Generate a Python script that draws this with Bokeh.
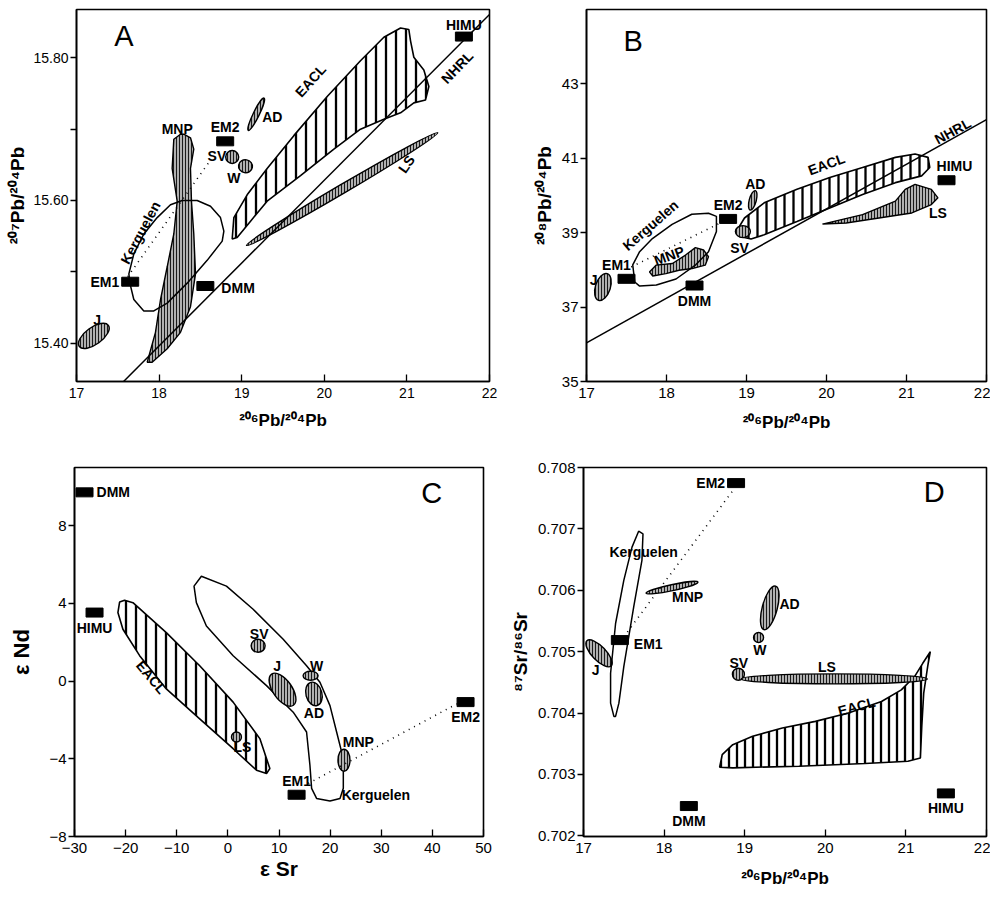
from bokeh.plotting import figure
from bokeh.layouts import row, column
from bokeh.models import FixedTicker, NumeralTickFormatter, Range1d
from bokeh.core.properties import value
from bokeh.embed import file_html
from bokeh.resources import INLINE

FONT = "Liberation Sans"

# ======================= DATA =======================
# ---- Panel A : 206Pb/204Pb vs 207Pb/204Pb
A_em_names = ["HIMU", "EM2", "EM1", "DMM"]
A_em_x = [21.69, 18.80, 17.65, 18.56]
A_em_y = [15.830, 15.683, 15.486, 15.480]
A_nhrl_x = [17.57, 22.0]
A_nhrl_y = [15.346, 15.861]
A_mix_x = [17.62, 18.63]
A_mix_y = [15.493, 15.658]
A_mnp_x = [18.259, 18.178, 18.158, 18.219, 18.178, 18.098, 18.017, 17.956, 17.856, 17.916,
           18.098, 18.259, 18.380, 18.441, 18.420, 18.392, 18.380, 18.420, 18.380, 18.299]
A_mnp_y = [15.693, 15.686, 15.645, 15.599, 15.553, 15.507, 15.461, 15.415, 15.373, 15.373,
           15.392, 15.415, 15.451, 15.497, 15.553, 15.599, 15.645, 15.672, 15.688, 15.693]
A_ker_x = [17.646, 17.694, 17.815, 17.936, 18.098, 18.340, 18.582, 18.764, 18.784, 18.743,
           18.622, 18.461, 18.279, 18.138, 17.977, 17.815, 17.694, 17.634]
A_ker_y = [15.484, 15.461, 15.445, 15.445, 15.456, 15.484, 15.516, 15.543, 15.557, 15.576,
           15.592, 15.600, 15.600, 15.594, 15.576, 15.553, 15.525, 15.497]
A_eacl_x = [18.885, 18.905, 19.066, 19.308, 19.631, 20.035, 20.438, 20.721, 20.923, 21.023,
            21.044, 21.084, 21.205, 21.266, 21.225, 21.084, 20.923, 20.721, 20.438, 20.116,
            19.712, 19.308, 19.107, 18.945]
A_eacl_y = [15.546, 15.576, 15.608, 15.645, 15.691, 15.746, 15.796, 15.829, 15.842, 15.840,
            15.824, 15.801, 15.783, 15.760, 15.741, 15.737, 15.723, 15.714, 15.700, 15.672,
            15.635, 15.599, 15.571, 15.548]
A_ell_names = ["J", "SV", "W", "AD", "LS"]
A_ell_x = [17.21, 18.885, 19.046, 19.175, 20.216]
A_ell_y = [15.410, 15.661, 15.648, 15.721, 15.616]
A_ell_w = [36, 13, 13, 36, 222]
A_ell_h = [17, 13, 14, 6, 9]
A_ell_a = [36, 0, 80, 64, 30.5]

# ---- Panel B : 206Pb/204Pb vs 208Pb/204Pb
B_em_names = ["HIMU", "EM2", "EM1", "DMM"]
B_em_x = [21.50, 18.77, 17.50, 18.35]
B_em_y = [40.41, 39.37, 37.76, 37.58]
B_nhrl_x = [17.0, 22.0]
B_nhrl_y = [36.04, 42.04]
B_mix_x = [17.56, 18.67]
B_mix_y = [38.08, 39.26]
B_ker_x = [17.603, 17.664, 17.873, 18.119, 18.365, 18.525, 18.624, 18.624, 18.525, 18.316,
           18.070, 17.824, 17.664, 17.578]
B_ker_y = [37.674, 37.565, 37.592, 37.755, 38.136, 38.489, 39.033, 39.440, 39.522, 39.495,
           39.223, 38.842, 38.489, 38.136]
B_mnp_x = [17.787, 17.869, 18.074, 18.238, 18.361, 18.463, 18.525, 18.484, 18.320, 18.156,
           17.992, 17.828]
B_mnp_y = [37.946, 38.127, 38.172, 38.399, 38.598, 38.534, 38.353, 38.127, 38.036, 37.991,
           37.900, 37.837]
B_eacl_x = [18.873, 18.975, 19.221, 19.631, 20.041, 20.451, 20.861, 21.107, 21.270, 21.291,
            21.189, 20.861, 20.451, 20.041, 19.631, 19.221, 19.057, 18.914]
B_eacl_y = [39.033, 39.395, 39.803, 40.165, 40.482, 40.754, 41.025, 41.116, 41.025, 40.754,
            40.527, 40.346, 40.029, 39.667, 39.304, 38.942, 38.833, 38.897]
B_ls_x = [19.95, 20.451, 20.861, 20.984, 21.107, 21.311, 21.393, 21.311, 21.066, 20.656, 20.246]
B_ls_y = [39.232, 39.486, 39.848, 40.165, 40.301, 40.165, 39.938, 39.757, 39.531, 39.395, 39.259]
B_ell_names = ["J", "SV", "AD"]
B_ell_x = [17.205, 18.955, 19.078]
B_ell_y = [37.54, 39.03, 39.87]
B_ell_w = [28, 15, 20]
B_ell_h = [15, 12, 7]
B_ell_a = [72, 0, 75]

# ---- Panel C : eSr vs eNd
C_em_names = ["DMM", "HIMU", "EM2", "EM1"]
C_em_x = [-28.04, -26.08, 46.49, 13.44]
C_em_y = [9.72, 3.53, -1.08, -5.85]
C_mix_x = [15.72, 44.79]
C_mix_y = [-5.27, -1.17]
C_eacl_x = [-21.18, -20.20, -18.57, -12.04, -5.51, 1.03, 6.25, 8.21, 7.56, 5.60, 1.03,
            -5.51, -12.04, -17.26, -20.53, -21.51]
C_eacl_y = [4.07, 4.17, 4.04, 2.50, 0.79, -1.08, -2.96, -4.50, -4.76, -4.59, -3.48,
            -1.94, -0.40, 1.31, 2.67, 3.53]
C_ker_x = [-5.18, -0.28, 4.94, 10.82, 15.39, 18.01, 19.97, 21.27, 22.58, 22.58, 21.93,
           19.97, 17.35, 16.38, 16.05, 15.39, 12.78, 7.56, 1.03, -4.20, -6.16, -6.62]
C_ker_y = [5.40, 4.89, 3.70, 2.16, 0.79, -0.06, -1.26, -2.62, -3.99, -5.52, -6.04,
           -6.17, -6.04, -5.52, -4.33, -2.62, -1.60, -0.23, 1.31, 2.84, 4.04, 4.89]
C_ell_names = ["SV", "J", "W", "AD", "MNP", "LS"]
C_ell_x = [5.92, 10.69, 16.18, 16.83, 22.71, 1.68]
C_ell_y = [1.82, -0.44, 0.28, -0.66, -4.07, -2.88]
C_ell_w = [14, 38, 15, 24, 22, 10]
C_ell_h = [13, 19, 9, 16, 12, 10]
C_ell_a = [0, -55, 0, 105, 90, 0]

# ---- Panel D : 206Pb/204Pb vs 87Sr/86Sr
D_em_names = ["EM2", "EM1", "DMM", "HIMU"]
D_em_x = [18.893, 17.451, 18.307, 21.496]
D_em_y = [0.707746, 0.705189, 0.702486, 0.702692]
D_mix_x = [17.50, 18.852]
D_mix_y = [0.705243, 0.707622]
D_ker_x = [17.377, 17.336, 17.336, 17.398, 17.500, 17.602, 17.684, 17.738, 17.725, 17.623,
           17.500, 17.439, 17.398]
D_ker_y = [0.703946, 0.704162, 0.704649, 0.705459, 0.706162, 0.706703, 0.706962, 0.706919,
           0.706486, 0.705730, 0.704757, 0.704162, 0.703946]
D_eacl_x = [18.689, 18.721, 18.852, 19.098, 19.467, 19.877, 20.287, 20.697, 20.943, 21.107,
            21.209, 21.303, 21.270, 21.221, 21.197, 21.180, 21.025, 20.492, 19.672, 18.852]
D_eacl_y = [0.703119, 0.703324, 0.703486, 0.703622, 0.703757, 0.703865, 0.704000, 0.704189,
            0.704378, 0.704595, 0.704811, 0.705000, 0.704757, 0.704324, 0.703784, 0.703270,
            0.703216, 0.703178, 0.703135, 0.703108]
D_ell_names = ["J", "MNP", "AD", "W", "SV", "LS"]
D_ell_x = [17.193, 18.098, 19.311, 19.172, 18.922, 20.111]
D_ell_y = [0.704973, 0.706043, 0.705714, 0.705232, 0.704632, 0.704557]
D_ell_w = [35, 53, 45, 10, 12, 186]
D_ell_h = [14, 6, 15, 10, 12, 10]
D_ell_a = [-46, 12, 75, 0, 0, 0]

# ======================= HELPERS =======================
def make_fig(w, h, xr, yr, bl, br, bt, bb, tick_size="15px"):
    p = figure(width=w, height=h, x_range=Range1d(*xr), y_range=Range1d(*yr),
               output_backend="svg", toolbar_location=None,
               min_border_left=bl, min_border_right=br, min_border_top=bt, min_border_bottom=bb)
    p.xgrid.visible = False
    p.ygrid.visible = False
    p.outline_line_color = "black"
    p.outline_line_width = 1.6
    p.outline_line_alpha = 1
    p.background_fill_color = "white"
    p.border_fill_color = "white"
    for ax in (p.xaxis[0], p.yaxis[0]):
        ax.axis_line_color = "black"
        ax.axis_line_width = 1.6
        ax.major_tick_line_color = "black"
        ax.major_tick_line_width = 1.3
        ax.minor_tick_line_color = "black"
        ax.minor_tick_line_width = 1.3
        ax.major_label_text_font = FONT
        ax.major_label_text_font_size = tick_size
        ax.major_label_text_color = "black"
        ax.axis_label_text_font = FONT
        ax.axis_label_text_font_style = "bold"
        ax.axis_label_text_color = "black"
    xa, ya = p.xaxis[0], p.yaxis[0]
    xa.major_tick_in, xa.major_tick_out = 7, 0
    xa.minor_tick_in, xa.minor_tick_out = 0, 0
    xa.major_label_standoff = 6
    ya.major_tick_in, ya.major_tick_out = 0, 6
    ya.minor_tick_in, ya.minor_tick_out = 0, 6
    ya.major_label_standoff = 2
    return p


def txt(p, x, y, s, size=14, angle=0, align="center", baseline="middle", dx=0, dy=0, style="bold"):
    p.text(x=[x], y=[y], text=[s], angle=angle, angle_units="deg", x_offset=dx, y_offset=dy,
           text_font=value(FONT), text_font_size=f"{size}px", text_font_style=style,
           text_align=align, text_baseline=baseline, text_color="black")


def endmembers(p, names, xs, ys, places):
    p.rect(x=xs, y=ys, width=17, height=9, width_units="screen", height_units="screen",
           fill_color="black", line_color="black")
    for n, x, y, pl in zip(names, xs, ys, places):
        kind = pl[0]
        ox, oy = (pl[1], pl[2]) if len(pl) > 1 else (0, 0)
        if kind == "above":
            txt(p, x, y, n, dx=ox, dy=-14 + oy)
        elif kind == "below":
            txt(p, x, y, n, dx=ox, dy=15 + oy)
        elif kind == "left":
            txt(p, x, y, n, align="right", dx=-11 + ox, dy=oy)
        else:
            txt(p, x, y, n, align="left", dx=12 + ox, dy=oy)


DENSE = dict(fill_color="#b0b0b0", line_color="black", line_width=1.4,
             hatch_pattern="vertical_line", hatch_scale=3, hatch_weight=1, hatch_color="#1a1a1a")


def dense_patch(p, xs, ys):
    p.patch(xs, ys, **DENSE)


def wide_patch(p, xs, ys, scale):
    p.patch(xs, ys, fill_color="white", fill_alpha=0, line_color="black", line_width=1.6,
            hatch_pattern="vertical_line", hatch_scale=scale, hatch_weight=2.3, hatch_color="black")


def outline(p, xs, ys):
    p.patch(xs, ys, fill_color=None, line_color="black", line_width=1.5)


def dense_ellipses(p, xs, ys, ws, hs, angs):
    p.ellipse(x=xs, y=ys, width=ws, height=hs, angle=angs, angle_units="deg",
              width_units="screen", height_units="screen", **DENSE)


def dotted(p, xs, ys):
    p.line(xs, ys, line_color="black", line_width=1.6, line_dash="1 5")

# ======================= PANEL A =======================
pA = make_fig(500, 453, (17, 22), (15.346, 15.868), 76, 11, 5, 70, tick_size="14px")
pA.xaxis.ticker = FixedTicker(ticks=[17, 18, 19, 20, 21, 22])
pA.yaxis.ticker = FixedTicker(ticks=[15.4, 15.6, 15.8], minor_ticks=[15.5, 15.7])
pA.yaxis.formatter = NumeralTickFormatter(format="0.00")
pA.xaxis.axis_label = "²⁰⁶Pb/²⁰⁴Pb"
pA.yaxis.axis_label = "²⁰⁷Pb/²⁰⁴Pb"
pA.xaxis.axis_label_text_font_size = "17px"
pA.yaxis.axis_label_text_font_size = "19px"
pA.xaxis.axis_label_standoff = 10
pA.yaxis.axis_label_standoff = 2

wide_patch(pA, A_eacl_x, A_eacl_y, 10)
dense_patch(pA, A_mnp_x, A_mnp_y)
dense_ellipses(pA, A_ell_x, A_ell_y, A_ell_w, A_ell_h, A_ell_a)
outline(pA, A_ker_x, A_ker_y)
pA.line(A_nhrl_x, A_nhrl_y, line_color="black", line_width=1.5)
dotted(pA, A_mix_x, A_mix_y)
endmembers(pA, A_em_names, A_em_x, A_em_y,
           [("above", 0, 2), ("above",), ("left",), ("right", 4, 2)])
txt(pA, 18.219, 15.701, "MNP")
txt(pA, 17.775, 15.555, "Kerguelen", angle=62)
txt(pA, 18.70, 15.662, "SV")
txt(pA, 18.905, 15.632, "W")
txt(pA, 19.37, 15.717, "AD")
txt(pA, 19.833, 15.768, "EACL", angle=48)
txt(pA, 21.609, 15.787, "NHRL", angle=46)
txt(pA, 20.995, 15.651, "LS", angle=55)
txt(pA, 17.25, 15.432, "J")
txt(pA, 17.573, 15.831, "A", size=29, style="normal")

# ======================= PANEL B =======================
pB = make_fig(490, 453, (17, 22), (35, 45), 86, 4, 9, 72)
pB.xaxis.ticker = FixedTicker(ticks=[17, 18, 19, 20, 21, 22])
pB.yaxis.ticker = FixedTicker(ticks=[35, 37, 39, 41, 43])
pB.xaxis.axis_label = "²⁰⁶Pb/²⁰⁴Pb"
pB.yaxis.axis_label = "²⁰⁸Pb/²⁰⁴Pb"
pB.xaxis.axis_label_text_font_size = "17px"
pB.yaxis.axis_label_text_font_size = "19px"
pB.xaxis.axis_label_standoff = 12
pB.yaxis.axis_label_standoff = 4

dense_patch(pB, B_ls_x, B_ls_y)
wide_patch(pB, B_eacl_x, B_eacl_y, 9)
dense_patch(pB, B_mnp_x, B_mnp_y)
dense_ellipses(pB, B_ell_x, B_ell_y, B_ell_w, B_ell_h, B_ell_a)
outline(pB, B_ker_x, B_ker_y)
pB.line(B_nhrl_x, B_nhrl_y, line_color="black", line_width=1.5)
dotted(pB, B_mix_x, B_mix_y)
endmembers(pB, B_em_names, B_em_x, B_em_y,
           [("above", 8, 0), ("above",), ("above", -10, 0), ("below",)])
txt(pB, 17.09, 37.73, "J")
txt(pB, 17.80, 39.20, "Kerguelen", angle=41)
txt(pB, 18.033, 38.38, "MNP", angle=20)
txt(pB, 18.914, 38.58, "SV")
txt(pB, 19.11, 40.30, "AD")
txt(pB, 20.0, 40.84, "EACL", angle=20)
txt(pB, 21.578, 41.73, "NHRL", angle=28.5)
txt(pB, 21.393, 39.53, "LS")
txt(pB, 17.582, 44.15, "B", size=29, style="normal")

# ======================= PANEL C =======================
pC = make_fig(500, 439, (-30, 50), (-8, 11), 74, 17, 14, 53)
pC.xaxis.ticker = FixedTicker(ticks=[-30, -20, -10, 0, 10, 20, 30, 40, 50])
pC.yaxis.ticker = FixedTicker(ticks=[-8, -4, 0, 4, 8])
pC.xaxis.axis_label = "ε Sr"
pC.yaxis.axis_label = "ε Nd"
pC.xaxis.axis_label_text_font_size = "21px"
pC.yaxis.axis_label_text_font_size = "22px"
pC.xaxis.axis_label_standoff = 1
pC.yaxis.axis_label_standoff = 12

wide_patch(pC, C_eacl_x, C_eacl_y, 10)
outline(pC, C_ker_x, C_ker_y)
dense_ellipses(pC, C_ell_x, C_ell_y, C_ell_w, C_ell_h, C_ell_a)
dotted(pC, C_mix_x, C_mix_y)
endmembers(pC, C_em_names, C_em_x, C_em_y,
           [("right",), ("below",), ("below",), ("above",)])
txt(pC, -14.98, 0.20, "EACL", angle=-50)
txt(pC, 22.25, -5.87, "Kerguelen", align="left")
txt(pC, 6.12, 2.42, "SV")
txt(pC, 9.65, 0.79, "J")
txt(pC, 17.35, 0.79, "W")
txt(pC, 16.83, -1.63, "AD")
txt(pC, 25.52, -3.13, "MNP")
txt(pC, 2.85, -3.39, "LS")
txt(pC, 39.89, 9.67, "C", size=29, style="normal")

# ======================= PANEL D =======================
pD = make_fig(490, 439, (17, 22), (0.70199, 0.708), 83, 4, 12, 56)
pD.xaxis.ticker = FixedTicker(ticks=[17, 18, 19, 20, 21, 22])
pD.yaxis.ticker = FixedTicker(ticks=[0.702, 0.703, 0.704, 0.705, 0.706, 0.707, 0.708])
pD.yaxis.formatter = NumeralTickFormatter(format="0.000")
pD.xaxis.axis_label = "²⁰⁶Pb/²⁰⁴Pb"
pD.yaxis.axis_label = "⁸⁷Sr/⁸⁶Sr"
pD.xaxis.axis_label_text_font_size = "17px"
pD.yaxis.axis_label_text_font_size = "19px"
pD.xaxis.axis_label_standoff = 13
pD.yaxis.axis_label_standoff = 4

wide_patch(pD, D_eacl_x, D_eacl_y, 8)
dense_ellipses(pD, D_ell_x, D_ell_y, D_ell_w, D_ell_h, D_ell_a)
outline(pD, D_ker_x, D_ker_y)
dotted(pD, D_mix_x, D_mix_y)
endmembers(pD, D_em_names, D_em_x, D_em_y,
           [("left",), ("right", 2, 4), ("below",), ("below",)])
txt(pD, 17.746, 0.706622, "Kerguelen")
txt(pD, 17.152, 0.704703, "J")
txt(pD, 18.291, 0.705892, "MNP")
txt(pD, 19.557, 0.705784, "AD")
txt(pD, 19.189, 0.705027, "W")
txt(pD, 18.926, 0.704822, "SV")
txt(pD, 20.020, 0.704757, "LS")
txt(pD, 20.389, 0.704108, "EACL", angle=15)
txt(pD, 21.352, 0.707595, "D", size=29, style="normal")

layout = column(row(pA, pB), row(pC, pD))
open("out.html", "w").write(file_html(layout, INLINE))
